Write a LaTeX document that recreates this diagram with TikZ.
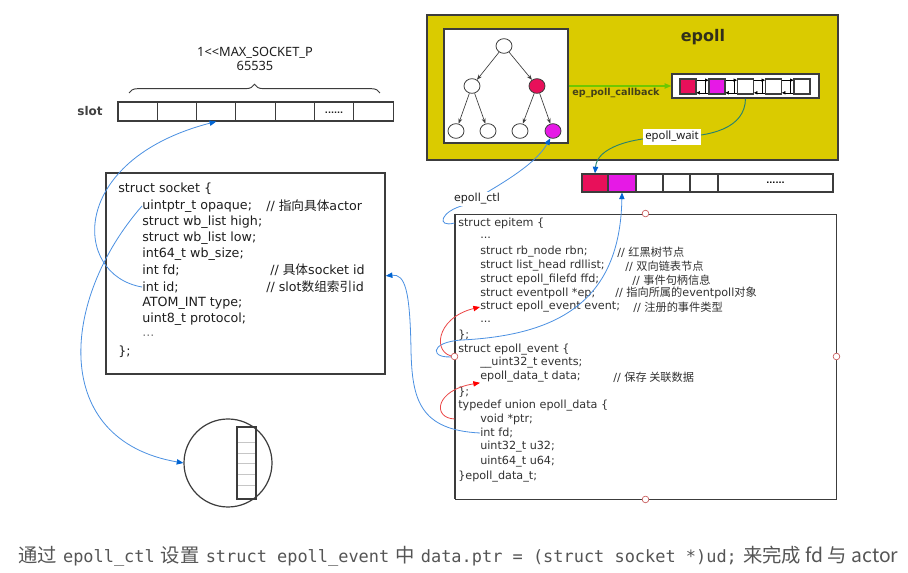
\documentclass[tikz,border=0pt]{standalone}
\usepackage{fontspec}
\setmainfont{DejaVu Sans}
\newfontfamily\cjk{Noto Sans CJK SC}
\newfontfamily\monof{DejaVu Sans Mono}
\newfontfamily\uifont{Noto Sans}
\usetikzlibrary{arrows.meta,decorations.pathreplacing,shapes.geometric}
\definecolor{crim}{RGB}{232,16,90}
\definecolor{mag}{RGB}{230,25,230}
\definecolor{epy}{RGB}{218,203,0}
\definecolor{bline}{RGB}{74,144,226}
\definecolor{btip}{RGB}{0,100,210}
\definecolor{rline}{RGB}{235,70,70}
\definecolor{gline}{RGB}{110,200,0}
\definecolor{tline}{RGB}{40,130,110}
\definecolor{bord}{RGB}{60,60,60}
\definecolor{txt}{RGB}{30,30,30}
\definecolor{etxt}{RGB}{50,50,50}
\definecolor{capc}{RGB}{85,85,85}
\definecolor{hnd}{RGB}{200,90,90}
\begin{document}
\begin{tikzpicture}[x=0.75pt,y=-0.75pt,
  box/.style={draw=bord, line width=1.1pt, inner sep=0pt},
  cell/.style={draw=bord, line width=0.8pt, inner sep=0pt},
  scode/.style={anchor=west, inner sep=0pt, text=txt, font=\fontsize{9.5}{11}\selectfont},
  ecode/.style={anchor=west, inner sep=0pt, text=etxt, font=\fontsize{8.4}{10}\selectfont},
  tn/.style={ellipse, draw=bord, line width=0.6pt, minimum width=12pt, minimum height=11pt, inner sep=0pt, fill=white},
  tarr/.style={-{Stealth[length=4pt,width=3pt]}, draw=bord, line width=0.5pt},
  barr/.style={bline, line width=0.6pt, -{Triangle[length=5pt,width=4pt,color=btip]}},
  rarr/.style={rline, line width=0.6pt, -{Triangle[length=5pt,width=4pt,color=red]}},
  handle/.style={circle, draw=hnd, fill=white, line width=0.5pt, minimum size=5pt, inner sep=0pt},
  lnk/.style={draw=black, line width=0.4pt, -{Triangle[length=2.5pt,width=2.5pt]}},
]
\useasboundingbox (0,0) rectangle (908,573);
\fill[white] (0,0) rectangle (908,573);

% ---------- slot array ----------
\node[font=\bfseries\fontsize{9}{11}\selectfont, text=txt!85!white] (slotlbl) at (90,111) {slot};
\foreach \i in {1,...,7} {
  \node[cell, minimum width=29.5pt, minimum height=14.25pt] (c\i) at ({118+39.29*(\i-0.5)},111.5) {};
}
\node[font=\bfseries\fontsize{6}{6}\selectfont, text=txt] at ([yshift=-1pt]c6.center) {......};
\coordinate (bl) at (129,93);
\coordinate (br) at (380,93);
\draw[bord, line width=0.7pt, decorate, decoration={brace, amplitude=6.5pt}] (bl) -- (br);
\node[font=\uifont\fontsize{9.6}{10}\selectfont, text=txt] (maxl) at (255,53) {1<<MAX\_SOCKET\_P};
\node[font=\uifont\fontsize{9.6}{10}\selectfont, text=txt] (maxn) at (255,66) {65535};

% ---------- socket box ----------
\node[box, minimum width=209.25pt, minimum height=150.75pt] (sock) at (245.5,273.5) {};
\node[scode] (s1) at (118,189) {struct socket \{};
\node[scode] (s2) at (142,206) {uintptr\_t opaque;};
\node[scode] (s2c) at (266,206) {// {\cjk 指向具体}actor};
\node[scode] (s3) at (142,222) {struct wb\_list high;};
\node[scode] (s4) at (142,238) {struct wb\_list low;};
\node[scode] (s5) at (142,254) {int64\_t wb\_size;};
\node[scode] (s6) at (142,270) {int fd;};
\node[scode] (s6c) at (270,270) {// {\cjk 具体}socket id};
\node[scode] (s7) at (142,287) {int id;};
\node[scode] (s7c) at (266,287) {// slot{\cjk 数组索引}id};
\node[scode] (s8) at (142,303) {ATOM\_INT type;};
\node[scode] (s9) at (142,319) {uint8\_t protocol;};
\node[scode, text=gray] (s10) at (142,336) {...};
\node[scode] (s11) at (118,352) {\};};

% ---------- circle ----------
\node[circle, draw=bord, line width=0.9pt, minimum size=66pt, inner sep=0pt] (circ) at (228,463) {};
\node[draw=bord, line width=1pt, minimum width=14.25pt, minimum height=54pt, inner sep=0pt] (stk) at (246.5,463) {};
\foreach \yy in {442,453,463,474,485} \draw[gray!45, line width=0.5pt] (238,\yy) -- (255,\yy);

% ---------- epoll ----------
\node[draw=bord, line width=1pt, fill=epy, minimum width=308.25pt, minimum height=108.75pt, inner sep=0pt] (epoll) at (632.5,87.5) {};
\node[font=\bfseries\fontsize{12}{14}\selectfont, text=txt!90!epy] (eplbl) at (703,37) {epoll};
\node[box, fill=white, minimum width=93pt, minimum height=85.5pt] (tree) at (506,86) {};
\node[tn] (t0) at (504,46) {};
\node[tn] (t1) at (472,86) {};
\node[tn, fill=crim] (t2) at (537,86) {};
\node[tn] (t3) at (456,131) {};
\node[tn] (t4) at (488,131) {};
\node[tn] (t5) at (520,131) {};
\node[tn, fill=mag] (t6) at (553,131) {};
\draw[tarr] (t0) -- (t1);
\draw[tarr] (t0) -- (t2);
\draw[tarr] (t1) -- (t3);
\draw[tarr] (t1) -- (t4);
\draw[tarr] (t2) -- (t5);
\draw[tarr] (t2) -- (t6);

\node[box, fill=white, minimum width=110.25pt, minimum height=18pt] (elist) at (745.5,86) {};
\node[cell, fill=crim, minimum width=12pt, minimum height=11.25pt] (q1) at (688,86.5) {};
\node[cell, fill=mag, minimum width=12pt, minimum height=11.25pt] (q2) at (717,86.5) {};
\node[cell, minimum width=12pt, minimum height=11.25pt] (q3) at (745.5,86.5) {};
\node[cell, minimum width=12pt, minimum height=11.25pt] (q4) at (773.5,86.5) {};
\node[cell, minimum width=12pt, minimum height=11.25pt] (q5) at (802,86.5) {};
\foreach \a/\b in {q1/q2,q2/q3,q3/q4,q4/q5} {
  \draw[lnk] ([yshift=-1.3pt]\a.north east) -- ([yshift=-1.3pt]\b.north west);
  \draw[lnk] ([yshift=1.3pt]\b.south west) -- ([yshift=1.3pt]\a.south east);
  \draw[black, line width=0.4pt] ([xshift=-2.2pt,yshift=-1.3pt]\b.north west) -- ([xshift=-2.2pt,yshift=1.3pt]\b.south west);
}
\draw[gline, line width=0.8pt, -{Triangle[length=5pt,width=4pt]}] (tree.east |- elist) -- (elist.west);
\node[font=\bfseries\fontsize{7.2}{8}\selectfont, text=txt!80!epy] (lcb) at (616,93) {ep\_poll\_callback};

% ---------- ready list ----------
\node[cell, fill=crim, minimum width=19.5pt, minimum height=13.5pt] (r1) at (595,183) {};
\node[cell, fill=mag, minimum width=21pt, minimum height=13.5pt] (r2) at (622,183) {};
\node[cell, minimum width=20.25pt, minimum height=13.5pt] (r3) at (649.5,183) {};
\node[cell, minimum width=20.25pt, minimum height=13.5pt] (r4) at (676.5,183) {};
\node[cell, minimum width=21pt, minimum height=13.5pt] (r5) at (704,183) {};
\node[cell, minimum width=86.25pt, minimum height=13.5pt, font=\bfseries\fontsize{6}{6}\selectfont] (r6) at (775.5,183) {......};
\draw[bord, line width=1pt] (r1.north west) rectangle (r6.south east);

\coordinate (wmid) at (672,137);
\draw[tline, line width=0.7pt, -{Triangle[length=5pt,width=4pt,color=btip]}] (elist.south) .. controls (745,128) and (712,137) .. (wmid) .. controls (630,137) and (597,148) .. (r1.north);
\node[fill=white, inner sep=1.5pt, font=\uifont\fontsize{8.5}{10}\selectfont, text=txt] (lwait) at (wmid) {epoll\_wait};

% ---------- epitem box ----------
\node[draw=bord, line width=0.7pt, minimum width=285.75pt, minimum height=213.75pt, inner sep=0pt] (epitem) at (645.5,356.5) {};
\draw[bord, line width=1.5pt] (epitem.north west) -- (epitem.south west);
\node[ecode] (e1) at (458,223) {struct epitem \{};
\node[ecode] (e2) at (480,238) {...};
\node[ecode] (e3) at (480,252) {struct rb\_node rbn;};
\node[ecode] (e3c) at (617,252) {// {\cjk 红黑树节点}};
\node[ecode] (e4) at (480,266) {struct list\_head rdllist;};
\node[ecode] (e4c) at (625,266) {// {\cjk 双向链表节点}};
\node[ecode] (e5) at (480,280) {struct epoll\_filefd ffd;};
\node[ecode] (e5c) at (632,280) {// {\cjk 事件句柄信息}};
\node[ecode] (e6) at (480,293) {struct eventpoll *ep;};
\node[ecode] (e6c) at (615,293) {// {\cjk 指向所属的}eventpoll{\cjk 对象}};
\node[ecode] (e7) at (480,307) {struct epoll\_event event;};
\node[ecode] (e7c) at (633,307) {// {\cjk 注册的事件类型}};
\node[ecode] (e8) at (480,322) {...};
\node[ecode] (e9) at (458,335) {\};};
\node[ecode] (e10) at (458,350) {struct epoll\_event \{};
\node[ecode] (e11) at (480,363) {\_\_uint32\_t events;};
\node[ecode] (e12) at (480,377) {epoll\_data\_t data;};
\node[ecode] (e12c) at (613,377) {// {\cjk 保存 关联数据}};
\node[ecode] (e13) at (458,392) {\};};
\node[ecode] (e14) at (458,406) {typedef union epoll\_data \{};
\node[ecode] (e15) at (480,419) {void *ptr;};
\node[ecode] (e16) at (480,433) {int fd;};
\node[ecode] (e17) at (480,447) {uint32\_t u32;};
\node[ecode] (e18) at (480,462) {uint64\_t u64;};
\node[ecode] (e19) at (458,477) {\}epoll\_data\_t;};

\node[handle] (hT) at (epitem.north) {};
\node[handle] (hB) at (epitem.south) {};
\node[handle] (hR) at (epitem.east) {};

% ---------- connectors ----------
\draw[barr] (s7.west) .. controls (72,275) and (68,160) .. (c3.south);
\draw[barr] (s2.west) .. controls (60,300) and (50,440) .. (circ.west);
\draw[barr] (e16.west) .. controls (420,430) and (412,400) .. (411,350) .. controls (410,290) and (405,274) .. (sock.east |- s6.south);
\draw[barr] (epitem.west |- e1) .. controls (436,228) and (440,211) .. (465,205) .. controls (500,185) and (535,165) .. (t6.250);
\node[fill=white, inner sep=1pt, font=\fontsize{8.3}{10}\selectfont, text=txt] (lctl) at (477,199) {epoll\_ctl};
\draw[barr] (epitem.west) .. controls (430,360) and (428,342) .. (462,340) .. controls (560,335) and (620,300) .. (r2.south);
\draw[rarr] (epitem.west) .. controls (432,355) and (435,318) .. (e7.west);
\draw[rarr] (epitem.west |- e15) .. controls (432,418) and (435,390) .. (e12.south west);
\node[handle] (hL) at (epitem.west) {};

% ---------- caption ----------
\node[anchor=west, inner sep=0pt, text=capc, font=\fontsize{14.5}{16}\selectfont] (cap) at (18,556)
  {{\cjk 通过} {\monof\fontsize{12.7}{16}\selectfont epoll\_ctl} {\cjk 设置} {\monof\fontsize{12.7}{16}\selectfont struct epoll\_event} {\cjk 中} {\monof\fontsize{12.7}{16}\selectfont data.ptr = (struct socket *)ud;} {\cjk 来完成 fd 与 actor}};
\end{tikzpicture}
\end{document}
